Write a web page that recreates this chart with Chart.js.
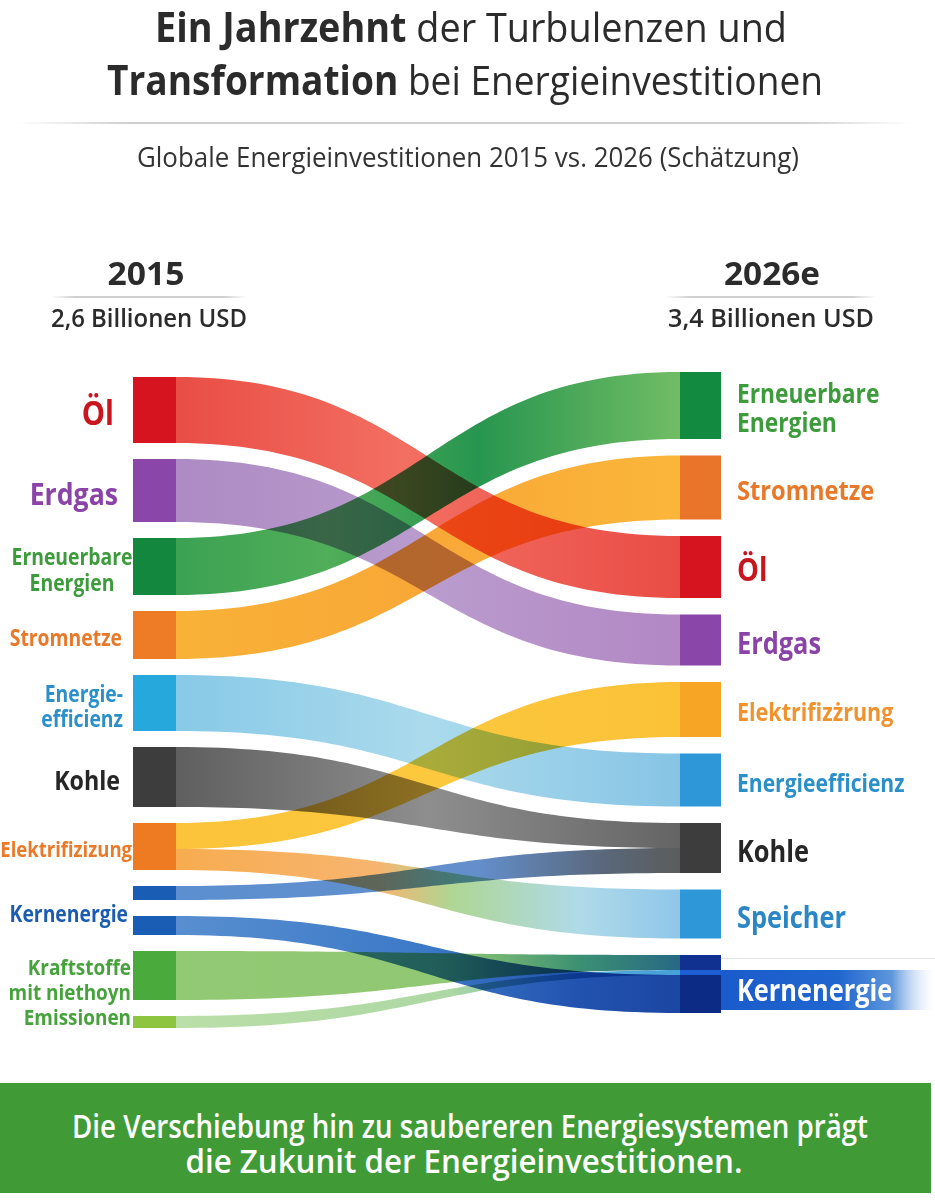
<!DOCTYPE html>
<html lang="de">
<head>
<meta charset="utf-8">
<title>Ein Jahrzehnt der Turbulenzen und Transformation bei Energieinvestitionen</title>
<script src="https://cdn.jsdelivr.net/npm/chart.js@4.4.1/dist/chart.umd.min.js"></script>
<style>
html,body{margin:0;padding:0;background:#fff;}
body{width:935px;height:1200px;position:relative;overflow:hidden;font-family:"Open Sans","Noto Sans",sans-serif;color:#2b2b2b;}
#c{position:absolute;left:0;top:0;z-index:1;}
.t{position:absolute;white-space:nowrap;line-height:1;transform-origin:center top;z-index:3;}
.rule{position:absolute;height:2px;z-index:2;background:linear-gradient(90deg,rgba(205,205,205,0),#d0d0d0 12%,#d0d0d0 88%,rgba(205,205,205,0));}
#banner{position:absolute;left:0;top:1083px;width:931px;height:110px;background:#409b37;z-index:2;}
b{font-weight:700;}
</style>
</head>
<body>
<div class="t" id="title1" style="font-weight:400"><b>Ein Jahrzehnt</b> der Turbulenzen und</div>
<div class="t" id="title2" style="font-weight:400"><b>Transformation</b> bei Energieinvestitionen</div>
<div class="rule" style="left:18px;top:122px;width:892px;"></div>
<div class="t" id="subtitle" style="font-weight:400;color:#333">Globale Energieinvestitionen 2015 vs. 2026 (Schätzung)</div>
<div class="t" id="yearL" style="font-weight:700"></div>
<div class="t" id="yearR" style="font-weight:700"></div>
<div class="rule" style="left:51px;top:296px;width:196px;"></div>
<div class="rule" style="left:665px;top:296px;width:212px;"></div>
<div class="t" id="totalL" style="font-weight:600"></div>
<div class="t" id="totalR" style="font-weight:600"></div>
<div id="banner"></div>
<div class="t" id="foot1" style="font-weight:600;color:#fff">Die Verschiebung hin zu saubereren Energiesystemen prägt</div>
<div class="t" id="foot2" style="font-weight:600;color:#fff">die Zukunit der Energieinvestitionen.</div>
<canvas id="c" width="935" height="1200"></canvas>
<script>
// ---------------- DATA (values in Mrd. USD, estimated from band widths) ----------------
const yearLabels = ['2015', '2026e'];
const totalLabels = ['2,6 Billionen USD', '3,4 Billionen USD'];

// left column (2015) segments
const leftSegments = ['Öl', 'Erdgas', 'Erneuerbare Energien', 'Stromnetze', 'Energieeffizienz', 'Kohle',
  'Elektrifizierung', 'Kernenergie (1)', 'Kernenergie (2)', 'Kraftstoffe (1)', 'Kraftstoffe (2)'];
// right column (2026e) nodes
const rightNodes = ['Erneuerbare Energien', 'Stromnetze', 'Öl', 'Erdgas', 'Elektrifizierung',
  'Energieeffizienz', 'Kohle', 'Speicher', 'Kernenergie'];

// flows: source segment index -> target node index
const flowFrom      = [0,   1,   2,   3,   4,   5,   6,   6,   7,   9,  10,  8];
const flowTo        = [2,   3,   0,   1,   5,   6,   4,   7,   6,   8,   8,  8];
const flowValue2015 = [330, 315, 285, 240, 280, 300, 130, 105, 70, 245, 60, 95];
const flowValue2026 = [310, 255, 335, 320, 265, 125, 275, 245, 125, 75, 25, 190];

// labels (text as in the reference)
const leftLabelLines = [['Öl'], ['Erdgas'], ['Erneuerbare', 'Energien'], ['Stromnetze'], ['Energie-', 'efficienz'],
  ['Kohle'], ['Elektrifizizung'], ['Kernenergie'], ['Kraftstoffe', 'mit niethoyn', 'Emissionen']];
const leftLabelSegments = [[0], [1], [2], [3], [4], [5], [6], [7, 8], [9, 10]];
const rightLabelLines = [['Erneuerbare', 'Energien'], ['Stromnetze'], ['Öl'], ['Erdgas'], ['Elektrifizżrung'],
  ['Energieefficienz'], ['Kohle'], ['Speicher'], ['Kernenergie']];

// ---------------- STYLE / LAYOUT ----------------
const LEFT_START = 25, RIGHT_START = 0, GAP_L = 80, GAP_R = 82.5;
const NODE_W_L = 43, NODE_W_R = 41;
const COND = 0.86;
const leftNodeColors = ['#d6141f', '#8a47a9', '#12873d', '#ee7b26', '#27a8dd', '#3d3d3d', '#ee7b22', '#1a5db5', '#1a5db5', '#4aaa3c', '#8dc540'];
const rightNodeColors = ['#128a3f', '#e9752a', '#d6141f', '#8a47a9', '#f6a524', '#2e97d8', '#3d3d3d', '#2e97d8', '#0c2b85'];
const flowStops = [
  [[0, '#e8423a'], [0.45, '#f26657'], [1, '#e8413a']],
  [[0, '#a883c0'], [0.5, '#b596ca'], [1, '#ae80c1']],
  [[0, '#2f9c48'], [0.3, '#46a94f'], [0.6, '#1a8f44'], [1, '#68b95b']],
  [[0, '#f9ad2b'], [0.5, '#f8a22a'], [1, '#fbb22e']],
  [[0, '#80c6e6'], [0.5, '#a6d8eb'], [1, '#7fc1e4']],
  [[0, '#555555'], [0.5, '#878787'], [1, '#5b5b5b']],
  [[0, '#fbc02e'], [0.5, '#fcc532'], [1, '#fbbe2b']],
  [[0, '#f7a745'], [0.4, '#f7b066'], [0.55, '#a9d48e'], [0.8, '#abd8e8'], [1, '#88c3e8']],
  [[0, '#5188cd'], [0.6, '#5a88c8'], [0.85, '#4f5e72'], [1, '#525252']],
  [[0, '#8cc66b'], [0.55, '#8ac46a'], [0.8, '#2f8a6a'], [1, '#1a5f7c']],
  [[0, '#b7dda3'], [0.55, '#a8d59e'], [0.8, '#4aa6cf'], [1, '#3a9ad8']],
  [[0, '#4e88cd'], [0.5, '#2f70c4'], [0.8, '#1448aa'], [1, '#0d3b9d']]
];
const targetSegColor = {9: '#10318f', 10: '#1d5fd2'};
const leftLabelStyle = [
  {c: '#c8161e', s: 34, x: 114, a: 'right', lh: 0},
  {c: '#8a44a8', s: 31, x: 118, a: 'right', lh: 0},
  {c: '#3c9b3a', s: 22.5, x: 72, a: 'center', lh: 26},
  {c: '#e8782a', s: 22.5, x: 122, a: 'right', lh: 0},
  {c: '#2b8fc9', s: 22.5, x: 123, a: 'right', lh: 25},
  {c: '#262626', s: 27, x: 120, a: 'right', lh: 0},
  {c: '#ea7a28', s: 21.5, x: 132, a: 'right', lh: 0},
  {c: '#1b5cb0', s: 22.5, x: 128, a: 'right', lh: 0},
  {c: '#46a23a', s: 22, x: 131, a: 'right', lh: 25}
];
const rightLabelStyle = [
  {c: '#3c9b3a', s: 26.5, lh: 29}, {c: '#e8782a', s: 27.5}, {c: '#c8161e', s: 32}, {c: '#8a44a8', s: 29.5},
  {c: '#f0922e', s: 25}, {c: '#2b8fc9', s: 24.5}, {c: '#262626', s: 29.5}, {c: '#2b86c5', s: 29.5}, {c: '#ffffff', s: 29.5}
];

// ---------------- HTML texts ----------------
document.getElementById('yearL').textContent = yearLabels[0];
document.getElementById('yearR').textContent = yearLabels[1];
document.getElementById('totalL').textContent = totalLabels[0];
document.getElementById('totalR').textContent = totalLabels[1];

function place(id, cx, baseline, size, targetW) {
  const el = document.getElementById(id);
  el.style.fontSize = size + 'px';
  el.style.left = cx + 'px';
  el.style.top = (baseline - 0.888 * size) + 'px';
  el.style.transform = 'none';
  const w = el.getBoundingClientRect().width;
  el.style.transform = 'translateX(-50%) scaleX(' + (targetW / w) + ')';
}
function layoutTexts() {
  place('title1', 471, 42, 41, 632);
  place('title2', 465, 95, 41, 716);
  place('subtitle', 468, 167, 28, 662);
  place('yearL', 145.5, 285, 32, 77);
  place('yearR', 772, 285, 32, 96);
  place('totalL', 149, 328, 25.5, 196);
  place('totalR', 771, 328, 25.5, 206);
  place('foot1', 470, 1138, 32, 796);
  place('foot2', 463.5, 1173, 32, 557);
}
layoutTexts();

// ---------------- Chart ----------------
function drawLines(ctx, lines, x, cy, align, size, color, lh) {
  ctx.save();
  ctx.font = '700 ' + size + 'px "Open Sans"';
  ctx.fillStyle = color;
  ctx.textAlign = align;
  ctx.textBaseline = 'alphabetic';
  const cap = size * 0.714;
  const n = lines.length;
  lines.forEach((ln, i) => {
    const base = cy + (i - (n - 1) / 2) * lh + cap / 2;
    ctx.save();
    ctx.translate(x, base);
    ctx.scale(COND, 1);
    ctx.fillText(ln, 0, 0);
    ctx.restore();
  });
  ctx.restore();
}

const sankeyPlugin = {
  id: 'sankeyFlows',
  afterDatasetsDraw(chart) {
    const ctx = chart.ctx;
    const x = chart.scales.x, y = chart.scales.y;
    const xL = x.getPixelForValue(2015), xR = x.getPixelForValue(2026);
    const xm = (xL + xR) / 2;

    const segVal = leftSegments.map((_, i) => flowValue2015.reduce((s, v, k) => flowFrom[k] === i ? s + v : s, 0));
    const nodeVal = rightNodes.map((_, j) => flowValue2026.reduce((s, v, k) => flowTo[k] === j ? s + v : s, 0));
    const segTop = [], nodeTop = [];
    let acc = LEFT_START;
    segVal.forEach((v, i) => { segTop[i] = acc; acc += v + GAP_L; });
    acc = RIGHT_START;
    nodeVal.forEach((v, j) => { nodeTop[j] = acc; acc += v + GAP_R; });

    const sOff = segTop.slice(), tOff = nodeTop.slice();
    const tgtRanges = [];
    ctx.save();
    ctx.globalCompositeOperation = 'multiply';
    ctx.globalAlpha = 0.94;
    flowFrom.forEach((s, k) => {
      const t = flowTo[k];
      const a0 = sOff[s], a1 = a0 + flowValue2015[k]; sOff[s] = a1;
      const b0 = tOff[t], b1 = b0 + flowValue2026[k]; tOff[t] = b1;
      const y0 = y.getPixelForValue(a0), y1 = y.getPixelForValue(a1);
      const z0 = y.getPixelForValue(b0), z1 = y.getPixelForValue(b1);
      tgtRanges[k] = [z0, z1];
      ctx.beginPath();
      ctx.moveTo(xL, y0);
      ctx.bezierCurveTo(xm, y0, xm, z0, xR, z0);
      ctx.lineTo(xR, z1);
      ctx.bezierCurveTo(xm, z1, xm, y1, xL, y1);
      ctx.closePath();
      const g = ctx.createLinearGradient(xL, 0, xR, 0);
      flowStops[k].forEach(([o, c]) => g.addColorStop(o, c));
      ctx.fillStyle = g;
      ctx.fill();
    });
    ctx.restore();

    // nodes
    ctx.save();
    segVal.forEach((v, i) => {
      const t = y.getPixelForValue(segTop[i]), b = y.getPixelForValue(segTop[i] + v);
      ctx.fillStyle = leftNodeColors[i];
      ctx.fillRect(xL - NODE_W_L, t, NODE_W_L, b - t);
    });
    nodeVal.forEach((v, j) => {
      const t = y.getPixelForValue(nodeTop[j]), b = y.getPixelForValue(nodeTop[j] + v);
      ctx.fillStyle = rightNodeColors[j];
      ctx.fillRect(xR, t, NODE_W_R, b - t);
    });
    Object.keys(targetSegColor).forEach(k => {
      const r = tgtRanges[k];
      ctx.fillStyle = targetSegColor[k];
      ctx.fillRect(xR, r[0], NODE_W_R, r[1] - r[0]);
    });
    ctx.restore();

    // left labels
    leftLabelLines.forEach((lines, g) => {
      const segs = leftLabelSegments[g];
      const top = y.getPixelForValue(segTop[segs[0]]);
      const last = segs[segs.length - 1];
      const bot = y.getPixelForValue(segTop[last] + segVal[last]);
      const st = leftLabelStyle[g];
      drawLines(ctx, lines, st.x, (top + bot) / 2 + 3, st.a, st.s, st.c, st.lh);
    });

    // right labels
    const lx = xR + NODE_W_R + 16;
    rightLabelLines.forEach((lines, j) => {
      const top = y.getPixelForValue(nodeTop[j]);
      const bot = y.getPixelForValue(nodeTop[j] + nodeVal[j]);
      const st = rightLabelStyle[j];
      let cy = (top + bot) / 2 + 3;
      if (j === rightNodes.length - 1) {
        cy += 3;
        // highlight band behind the Kernenergie label
        ctx.save();
        ctx.strokeStyle = '#e4e4e4';
        ctx.lineWidth = 1;
        ctx.beginPath();
        ctx.moveTo(xR + NODE_W_R, top + 3.5);
        ctx.lineTo(chart.width, top + 3.5);
        ctx.stroke();
        const bg = ctx.createLinearGradient(xR + NODE_W_R, 0, chart.width, 0);
        bg.addColorStop(0, '#1a5bcb');
        bg.addColorStop(0.55, '#2066cf');
        bg.addColorStop(0.8, '#5f97dc');
        bg.addColorStop(1, 'rgba(255,255,255,0.2)');
        ctx.fillStyle = bg;
        ctx.fillRect(xR + NODE_W_R, cy - 20, chart.width - xR - NODE_W_R, 40);
        ctx.restore();
      }
      drawLines(ctx, lines, lx, cy, 'left', st.s, st.c, st.lh || 0);
    });
  }
};

new Chart(document.getElementById('c'), {
  type: 'scatter',
  data: {datasets: []},
  options: {
    responsive: false,
    animation: false,
    devicePixelRatio: 1,
    layout: {padding: {left: 176, right: 255, top: 372, bottom: 168}},
    plugins: {legend: {display: false}, tooltip: {enabled: false}},
    scales: {
      x: {type: 'linear', min: 2015, max: 2026, display: false},
      y: {type: 'linear', min: 0, max: 3300, reverse: true, display: false}
    }
  },
  plugins: [sankeyPlugin]
});
</script>
</body>
</html>
